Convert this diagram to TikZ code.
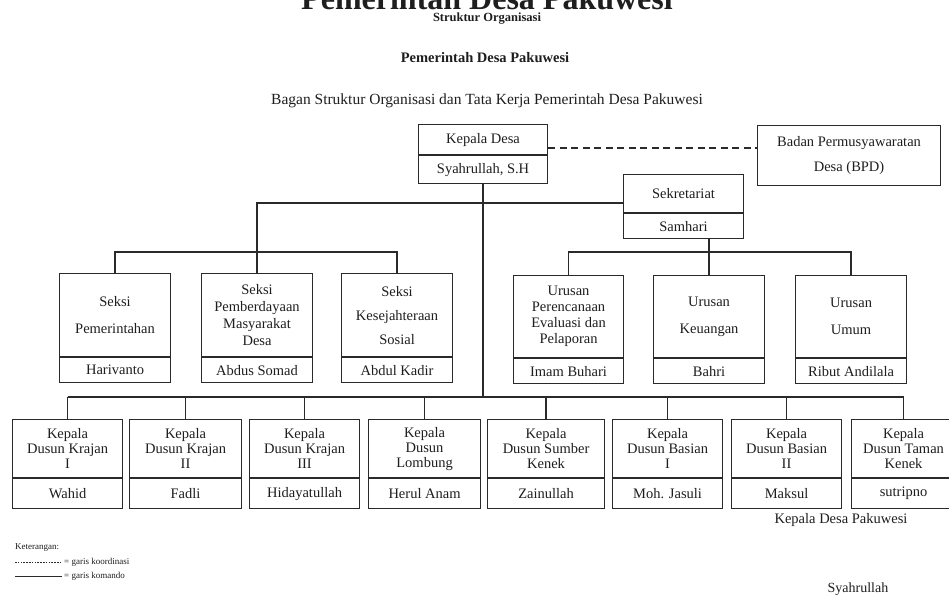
\documentclass[tikz,border=0pt]{standalone}
\usepackage{fontspec}
\setmainfont{Liberation Serif}
\usetikzlibrary{calc}
\definecolor{linec}{HTML}{2A2A2A}
\definecolor{textc}{HTML}{1E1E1E}
\newcommand\bodyf{\fontsize{14.5}{15}\selectfont}
\newcommand\smallf{\fontsize{9}{10}\selectfont}
% #1 name, #2 x, #3 y, #4 width, #5 top height, #6 bottom height, #7 top text, #8 name text
\newcommand\obox[8]{%
  \node[part, minimum width=#4pt, minimum height=#5pt, anchor=north west] (#1) at (#2,#3) {#7};
  \node[part, minimum width=#4pt, minimum height=#6pt, anchor=north west] (#1n) at (#1.south west) {#8};}
\begin{document}
\begin{tikzpicture}[x=1pt,y=-1pt,
  part/.style={draw=linec, line width=1.1pt, rectangle, inner sep=0pt, align=center, font=\bodyf, text=textc},
  cmd/.style={draw=linec, line width=1.3pt},
  koord/.style={draw=linec, line width=1.3pt, dash pattern=on 7pt off 4.5pt},
  lbl/.style={inner sep=0pt, align=center, text=textc}]
\clip (0,0) rectangle (949,596);
\fill[white] (0,0) rectangle (949,596);

% titles
\node[lbl, font=\bfseries\fontsize{32}{32}\selectfont, anchor=base] (title) at (487,9.5) {Pemerintah Desa Pakuwesi};
\node[lbl, font=\bfseries\fontsize{12.5}{13}\selectfont, anchor=base] (so) at (487,22) {Struktur Organisasi};
\node[lbl, font=\bfseries\fontsize{14.5}{15}\selectfont] (pdp) at (485,58) {Pemerintah Desa Pakuwesi};
\node[lbl, font=\fontsize{15.5}{16}\selectfont] (bagan) at (487,101) {Bagan Struktur Organisasi dan Tata Kerja Pemerintah Desa Pakuwesi};

% top boxes
\obox{kd}{418}{124}{129}{30}{28}{Kepala Desa}{Syahrullah, S.H}
\node[part, minimum width=183pt, minimum height=60pt, anchor=north west] (bpd) at (757,125) {Badan Permusyawaratan\\[10pt]Desa (BPD)};
\obox{sek}{623}{174}{120}{38}{25}{Sekretariat}{Samhari}

% seksi
\obox{s1}{59}{273}{111}{83}{25}{Seksi\\[12pt]Pemerintahan}{Harivanto}
\obox{s2}{201}{273}{111}{83}{25}{Seksi\\[2pt]Pemberdayaan\\[2pt]Masyarakat\\[2pt]Desa}{Abdus Somad}
\obox{s3}{341}{273}{111}{83}{25}{Seksi\\[9pt]Kesejahteraan\\[9pt]Sosial}{Abdul Kadir}

% urusan
\obox{u1}{513}{275}{110}{82}{25}{Urusan\\[1pt]Perencanaan\\[1pt]Evaluasi dan\\[1pt]Pelaporan}{Imam Buhari}
\obox{u2}{653}{275}{111}{82}{25}{Urusan\\[12pt]Keuangan}{Bahri}
\obox{u3}{795}{275}{111}{82}{25}{Urusan\\[12pt]Umum}{Ribut Andilala}

% dusun
\obox{d1}{12}{419}{110}{58}{30}{Kepala\\Dusun Krajan\\I}{Wahid}
\obox{d2}{129}{419}{112}{58}{30}{Kepala\\Dusun Krajan\\II}{Fadli}
\obox{d3}{249}{419}{110}{58}{30}{Kepala\\Dusun Krajan\\III}{Hidayatullah}
\obox{d4}{368}{419}{112}{58}{30}{Kepala\\Dusun\\Lombung}{Herul Anam}
\obox{d5}{487}{419}{117}{58}{30}{Kepala\\Dusun Sumber\\Kenek}{Zainullah}
\obox{d6}{612}{419}{110}{58}{30}{Kepala\\Dusun Basian\\I}{Moh. Jasuli}
\obox{d7}{731}{419}{110}{58}{30}{Kepala\\Dusun Basian\\II}{Maksul}
\obox{d8}{851}{419}{104}{58}{30}{Kepala\\Dusun Taman\\Kenek}{sutripno}

% helper levels
\coordinate (dy) at (0,148);
\coordinate (hy) at (0,203);
\coordinate (sy) at (0,252);
\coordinate (uy) at (0,252);
\coordinate (by) at (0,397);

% coordination line
\draw[koord] (kd.east |- dy) -- (bpd.west |- dy);

% command lines
\draw[cmd] (kdn.south) -- (kdn.south |- by);
\draw[cmd] (d1.north |- by) -- (d8.north |- by);
\foreach \d in {d1,d2,d3,d4,d5,d6,d7,d8} \draw[cmd] (\d.north |- by) -- (\d.north);

\draw[cmd] (sek.west |- hy) -- (s2.north |- hy) -- (s2.north);
\draw[cmd] (s1.north) -- (s1.north |- sy) -- (s3.north |- sy) -- (s3.north);

\draw[cmd] (sekn.south -| u2.north) -- (u2.north);
\draw[cmd] (u1.north) -- (u1.north |- uy) -- (u3.north |- uy) -- (u3.north);

% legend
\node[lbl, font=\smallf, anchor=west] (ket) at (15,548) {Keterangan:};
\coordinate (l1a) at (15,562); \coordinate (l1b) at (62,562);
\coordinate (l2a) at (15,576); \coordinate (l2b) at (62,576);
\draw[linec, line width=0.6pt, dash pattern=on 1.6pt off 1.2pt] (l1a) -- (l1b);
\draw[linec, line width=0.8pt] (l2a) -- (l2b);
\node[lbl, font=\smallf, anchor=west] (k1) at (64,562) {= garis koordinasi};
\node[lbl, font=\smallf, anchor=west] (k2) at (64,576) {= garis komando};

% signature
\node[lbl, font=\bodyf] (kdp) at (841,520) {Kepala Desa Pakuwesi};
\node[lbl, font=\fontsize{14}{15}\selectfont] (syh) at (858,589) {Syahrullah};
\end{tikzpicture}
\end{document}
